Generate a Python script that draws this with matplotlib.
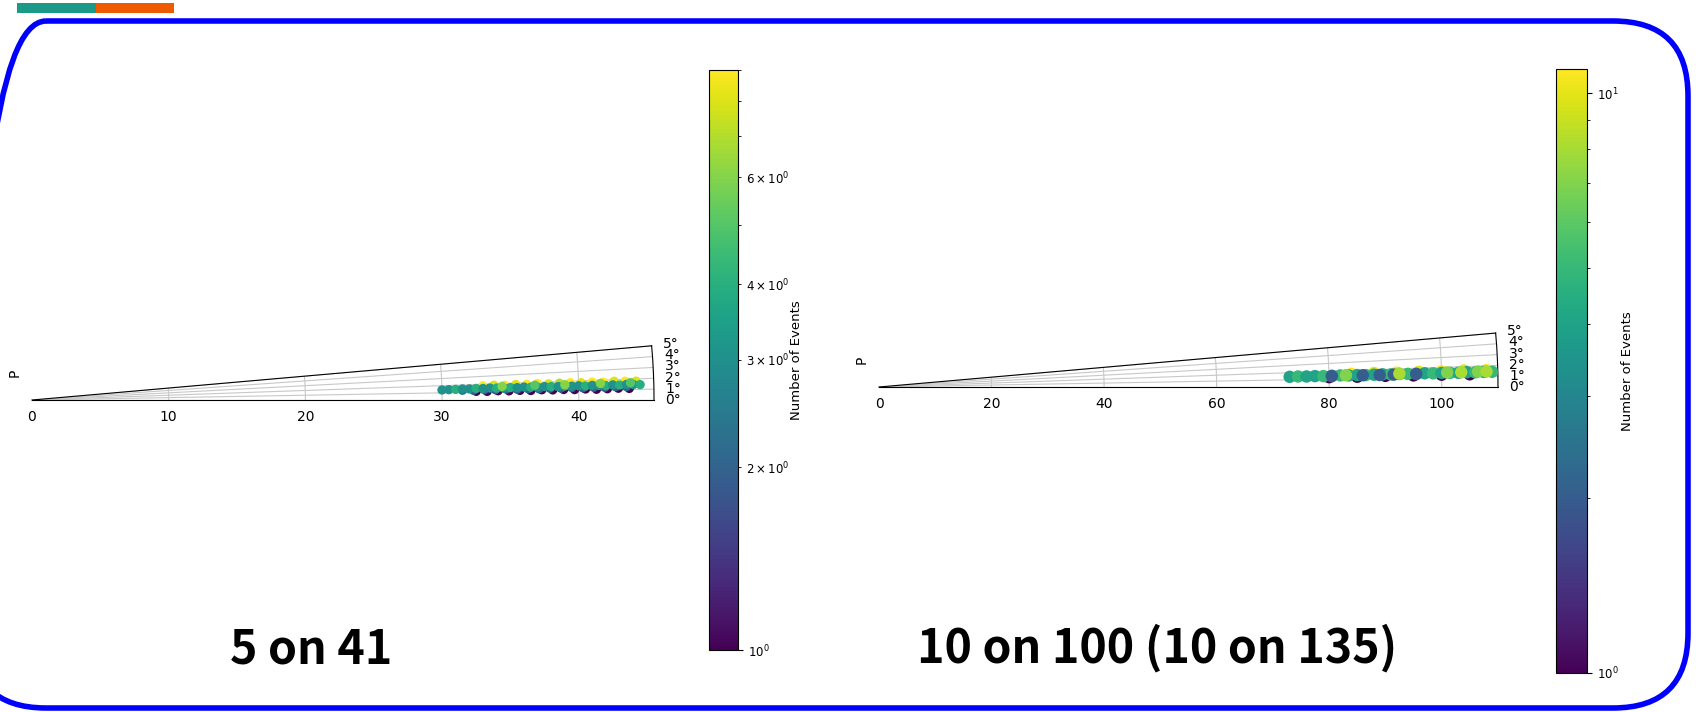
"""Slide: two narrow polar wedges of event counts with log colour bars."""

import matplotlib
matplotlib.use("Agg")
import matplotlib.pyplot as plt
import numpy as np
from matplotlib.colors import LogNorm
from matplotlib.patches import FancyBboxPatch, Rectangle

W, H = 1696, 712

# --- data (radius, angle in degrees, number of events) ---
# left wedge, drawn bottom layer first: purple row, yellow row, blue row,
# teal core, green specks
left_r = [32.5, 33.3, 34.1, 34.9, 35.7, 36.5, 37.3, 38.1, 38.9, 39.7, 40.5,
          41.3, 42.1, 42.9, 43.7,
          33.0, 33.8, 34.6, 35.4, 36.2, 37.0, 37.8, 38.6, 39.4, 40.2, 41.0,
          41.8, 42.6, 43.4, 44.2,
          31.5, 32.3, 33.1, 33.9, 34.7, 35.5, 36.3, 37.1, 37.9, 38.7, 39.5,
          40.3, 41.1, 41.9, 42.7, 43.5,
          30.0, 30.5, 31.0, 31.5, 32.0, 32.5, 33.0, 33.5, 34.0, 34.5, 35.0,
          35.5, 36.0, 36.5, 37.0, 37.5, 38.0, 38.5, 39.0, 39.5, 40.0, 40.5,
          41.0, 41.5, 42.0, 42.5, 43.0, 43.5, 44.0, 44.5,
          34.4, 36.8, 39.0, 41.6, 43.8]
left_theta = [1.12, 1.09, 1.14, 1.10, 1.13, 1.09, 1.15, 1.11, 1.13, 1.10,
              1.14, 1.09, 1.12, 1.15, 1.11,
              1.80, 1.83, 1.78, 1.84, 1.81, 1.85, 1.79, 1.82, 1.84, 1.80,
              1.83, 1.78, 1.85, 1.81, 1.79,
              1.30, 1.27, 1.31, 1.28, 1.32, 1.27, 1.30, 1.27, 1.31, 1.29,
              1.32, 1.27, 1.30, 1.28, 1.31, 1.29,
              1.40, 1.42, 1.44, 1.47, 1.45, 1.49, 1.46, 1.50, 1.47, 1.44,
              1.49, 1.46, 1.51, 1.47, 1.45, 1.50, 1.48, 1.46, 1.51, 1.47,
              1.49, 1.45, 1.50, 1.47, 1.44, 1.49, 1.46, 1.50, 1.47, 1.45,
              1.66, 1.68, 1.64, 1.67, 1.65]
left_n = [1, 1, 1, 1, 1, 1, 1, 1, 1, 1, 1, 1, 1, 1, 1,
          9, 8, 9, 8, 9, 9, 8, 7, 9, 8, 9, 9, 8, 9, 8,
          2, 2, 2, 2, 2, 2, 2, 2, 2, 2, 2, 2, 2, 2, 2, 2,
          3, 3, 4, 3, 3, 4, 3, 3, 4, 3, 4, 3, 3, 4, 3, 3, 4, 3, 4, 3,
          3, 4, 3, 3, 4, 3, 4, 3, 3, 4,
          6, 5, 6, 6, 5]

# right wedge, drawn bottom layer first: yellow, purple, teal core,
# blue blobs, green blobs
right_r = [84, 88, 92, 96, 100, 104, 108,
           80, 85, 90, 95, 100, 105,
           73, 74.5, 76, 77.5, 79, 80.5, 82, 83.5, 85, 86.5, 88, 89.5, 91,
           92.5, 94, 95.5, 97, 98.5, 100, 101.5, 103, 104.5, 106, 107.5, 109,
           80.5, 86, 89, 91.5, 95.5,
           83, 92.5, 101, 103.5, 106.5, 108]
right_theta = [1.60, 1.62, 1.59, 1.61, 1.60, 1.62, 1.59,
               1.25, 1.23, 1.26, 1.24, 1.25, 1.23,
               1.42, 1.44, 1.41, 1.43, 1.40, 1.42, 1.44, 1.41, 1.43, 1.40,
               1.42, 1.44, 1.41, 1.43, 1.42, 1.40, 1.44, 1.41, 1.43, 1.42,
               1.40, 1.44, 1.41, 1.43, 1.42,
               1.38, 1.39, 1.37, 1.38, 1.39,
               1.45, 1.47, 1.46, 1.45, 1.47, 1.46]
right_n = [11, 10, 11, 10, 11, 10, 11,
           1, 1, 1, 1, 1, 1,
           4, 5, 4, 4, 5, 4, 5, 4, 4, 5, 4, 4, 5, 4, 5, 4, 4, 5, 4, 5, 4,
           4, 5, 4, 5,
           2, 2, 2, 2, 2,
           7, 8, 7, 8, 7, 8]

theta_ticks = [0, 1, 2, 3, 4, 5]
captions = ["5 on 41", "10 on 100 (10 on 135)"]


def px_axes(fig, x0, y0, x1, y1, **kw):
    """Add axes from pixel box given with y measured from the top."""
    return fig.add_axes([x0 / W, 1 - y1 / H, (x1 - x0) / W, (y1 - y0) / H], **kw)


def wedge(fig, x0, x1, y_origin, rmax, r, theta, n, vmax, size, cbox,
          ylab_x, cb_pad):
    side = x1 - x0
    yc = y_origin - side * np.sin(np.deg2rad(5)) / 2
    ax = px_axes(fig, x0, yc - side / 2, x1, yc + side / 2, projection="polar")
    sc = ax.scatter(np.deg2rad(theta), r, c=n, cmap="viridis",
                    norm=LogNorm(vmin=1, vmax=vmax), s=size, zorder=3,
                    linewidths=0)
    ax.set_thetamin(0)
    ax.set_thetamax(5)
    ax.set_thetagrids(theta_ticks)
    ax.set_rlim(0, rmax)
    ax.tick_params(labelsize=10)
    ax.grid(color="#c8c8c8", linewidth=0.8)
    fig.text(ylab_x / W, 1 - (y_origin - 27) / H, "P", rotation=90,
             fontsize=10, ha="center", va="center")

    cax = px_axes(fig, *cbox)
    cb = fig.colorbar(sc, cax=cax)
    cb.ax.tick_params(labelsize=8.5, which="both")
    cb.set_label("Number of Events", fontsize=9.5, labelpad=cb_pad)
    return ax


def main() -> None:
    fig = plt.figure(figsize=(W / 100, H / 100), dpi=100, facecolor="white")

    # slide decoration
    bg = fig.add_axes([0, 0, 1, 1], zorder=-1)
    bg.set_xlim(0, W)
    bg.set_ylim(H, 0)
    bg.axis("off")
    bg.add_patch(Rectangle((17, 3), 79, 10, color="#1b9a8a", lw=0))
    bg.add_patch(Rectangle((96, 3), 78, 10, color="#ee5a00", lw=0))
    # slide frame runs off the left edge of the picture
    bg.add_patch(FancyBboxPatch((-29, 21), 1717, 687,
                                boxstyle="round,pad=0,rounding_size=75",
                                fill=False, ec="#0000ff", lw=4, clip_on=False))

    wedge(fig, 32, 654, 400, 45.5, left_r, left_theta, left_n, 9, 45,
          (709, 70, 738, 650), 15, 1.0)
    wedge(fig, 879, 1498, 387, 110, right_r, right_theta, right_n, 11, 80,
          (1556, 69, 1587, 673), 862, 1.5)

    font = ["Noto Sans CJK SC", "DejaVu Sans"]
    bg.text(311, 663, captions[0], ha="center", va="baseline", fontsize=33.5,
            fontweight="bold", family=font)
    bg.text(1157, 663, captions[1], ha="center", va="baseline", fontsize=33.5,
            fontweight="bold", family=font)

    fig.savefig("out.png", dpi=100, facecolor="white")
    plt.close(fig)


if __name__ == "__main__":
    main()
